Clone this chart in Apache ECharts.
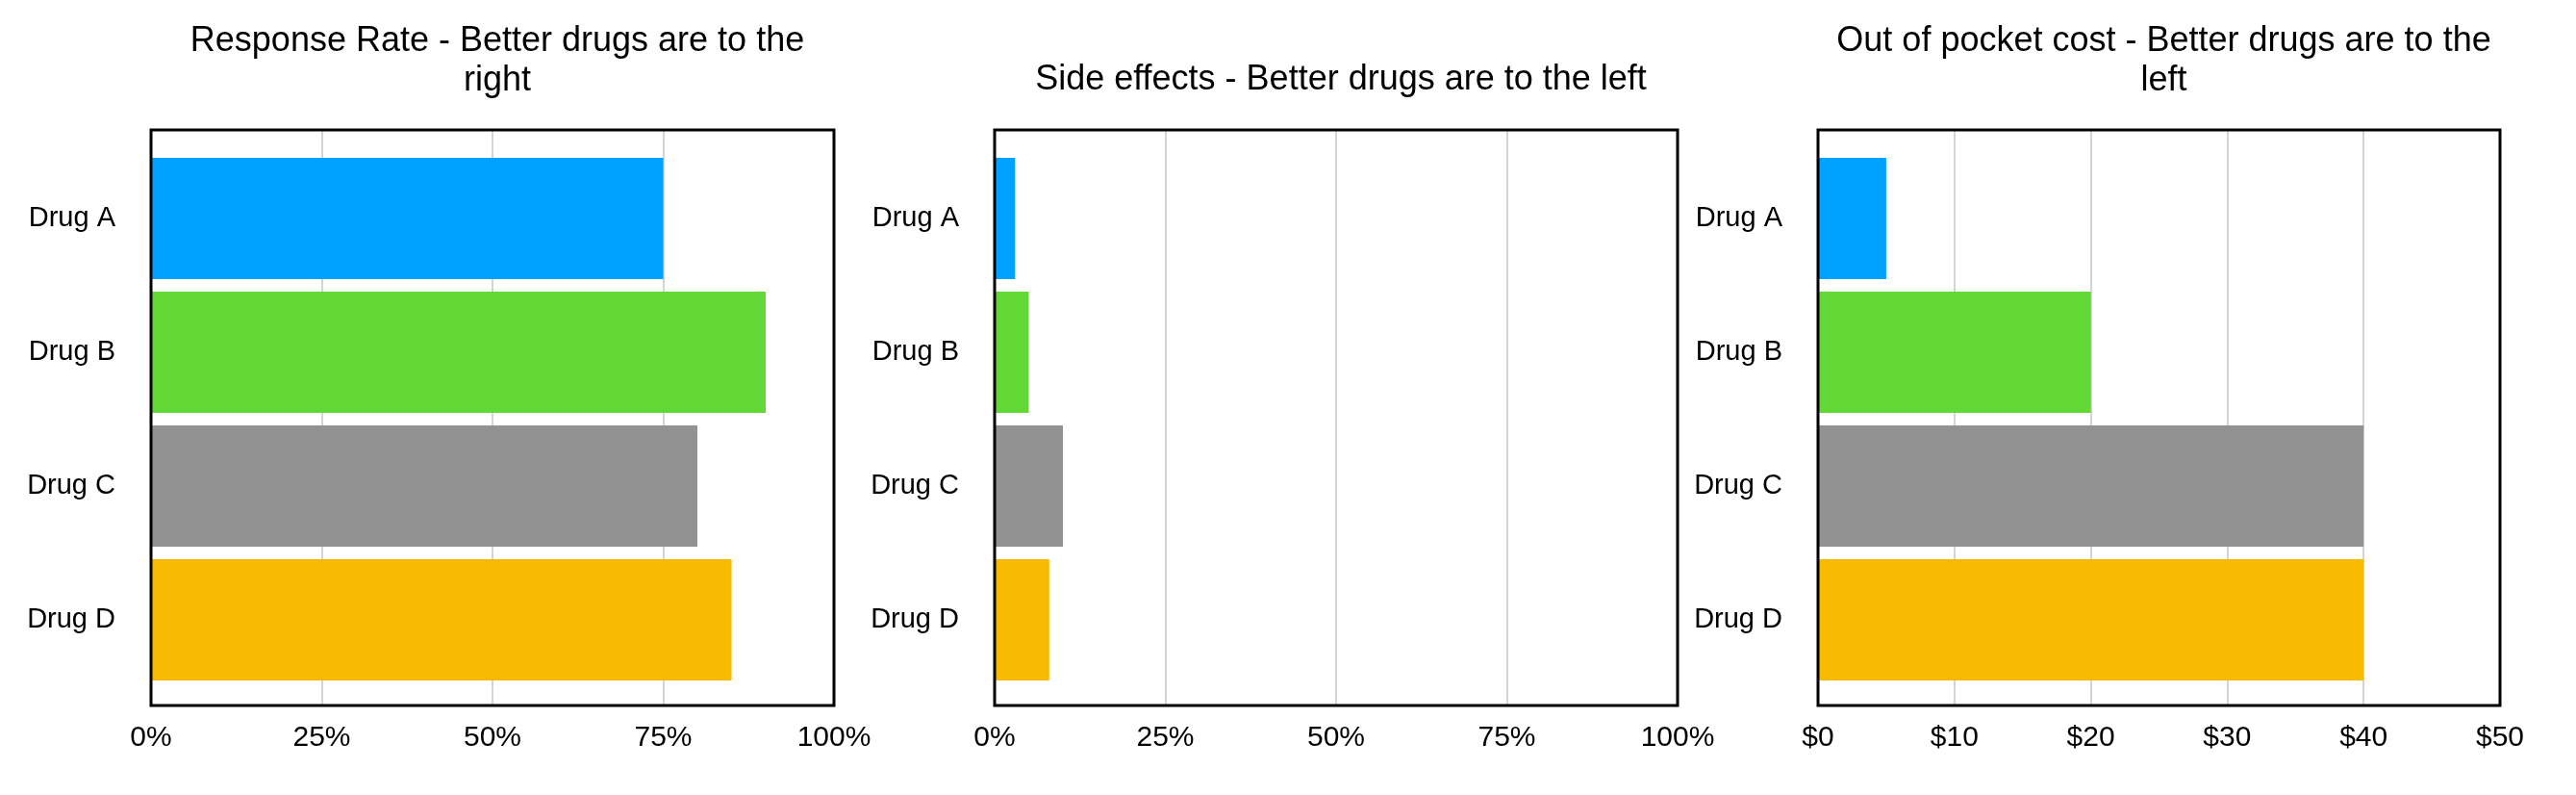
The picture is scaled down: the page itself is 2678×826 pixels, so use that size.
<!DOCTYPE html>
<html>
<head>
<meta charset="utf-8">
<script src="https://cdn.jsdelivr.net/npm/echarts@6/dist/echarts.min.js"></script>
<style>
html,body{margin:0;padding:0;background:#fff;}
#main{width:2678px;height:826px;}
</style>
</head>
<body>
<div id="main"></div>
<script>
const categories = ['Drug A', 'Drug B', 'Drug C', 'Drug D'];
const barColors = ['#00A2FF', '#61D836', '#929292', '#F8BA00'];
const responseRate = [75, 90, 80, 85];
const sideEffects = [3, 5, 10, 8];
const outOfPocket = [5, 20, 40, 40];
const titles = [
  'Response Rate - Better drugs are to the\nright',
  'Side effects - Better drugs are to the left',
  'Out of pocket cost - Better drugs are to the\nleft'
];
const pctTicks = { min: 0, max: 100, interval: 25 };
const costTicks = { min: 0, max: 50, interval: 10 };

const panels = [
  { left: 157, width: 710, data: responseRate, ticks: pctTicks, fmt: v => v + '%', title: titles[0], titleTop: 18 },
  { left: 1034, width: 710, data: sideEffects, ticks: pctTicks, fmt: v => v + '%', title: titles[1], titleTop: 58 },
  { left: 1890, width: 709, data: outOfPocket, ticks: costTicks, fmt: v => '$' + v, title: titles[2], titleTop: 18 }
];

const FONT = '"Liberation Sans", Arial, Helvetica, sans-serif';
const frameTop = 135, frameHeight = 598;
const bandTop = 157.5, bandHeight = 556;

const option = { animation: false, backgroundColor: '#fff', title: [], grid: [], xAxis: [], yAxis: [], series: [] };

panels.forEach((p, i) => {
  option.title.push({
    text: p.title,
    left: p.left + p.width / 2,
    top: p.titleTop,
    textAlign: 'center',
    textStyle: { fontFamily: FONT, fontSize: 36, fontWeight: 'normal', color: '#000', lineHeight: 41 }
  });
  option.grid.push({ left: p.left, width: p.width, top: frameTop, height: frameHeight, show: true, borderColor: '#000', borderWidth: 3, backgroundColor: 'transparent', z: 5 });
  option.grid.push({ left: p.left, width: p.width, top: bandTop, height: bandHeight, show: false });
  const gFrame = i * 2, gBars = i * 2 + 1;
  option.xAxis.push({
    type: 'value', gridIndex: gFrame, min: p.ticks.min, max: p.ticks.max, interval: p.ticks.interval,
    axisLine: { show: false }, axisTick: { show: false },
    splitLine: { show: true, lineStyle: { color: '#c6c6c6', width: 1.5 } },
    axisLabel: { formatter: p.fmt, fontFamily: FONT, fontSize: 30, color: '#000', margin: 19 }
  });
  option.yAxis.push({ type: 'value', gridIndex: gFrame, show: false, min: 0, max: 1, splitLine: { show: false } });
  option.xAxis.push({ type: 'value', gridIndex: gBars, min: p.ticks.min, max: p.ticks.max, show: false, splitLine: { show: false } });
  option.yAxis.push({
    type: 'category', gridIndex: gBars, data: categories, inverse: true,
    axisLine: { show: false }, axisTick: { show: false }, splitLine: { show: false },
    axisLabel: { fontFamily: FONT, fontSize: 29, color: '#000', margin: 37 }
  });
  option.series.push({
    type: 'bar', xAxisIndex: gBars, yAxisIndex: gBars,
    barWidth: '90.6%',
    data: p.data.map((v, k) => ({ value: v, itemStyle: { color: barColors[k] } })),
    z: 3
  });
});

const chart = echarts.init(document.getElementById('main'), null, { renderer: 'canvas' });
chart.setOption(option);
</script>
</body>
</html>
